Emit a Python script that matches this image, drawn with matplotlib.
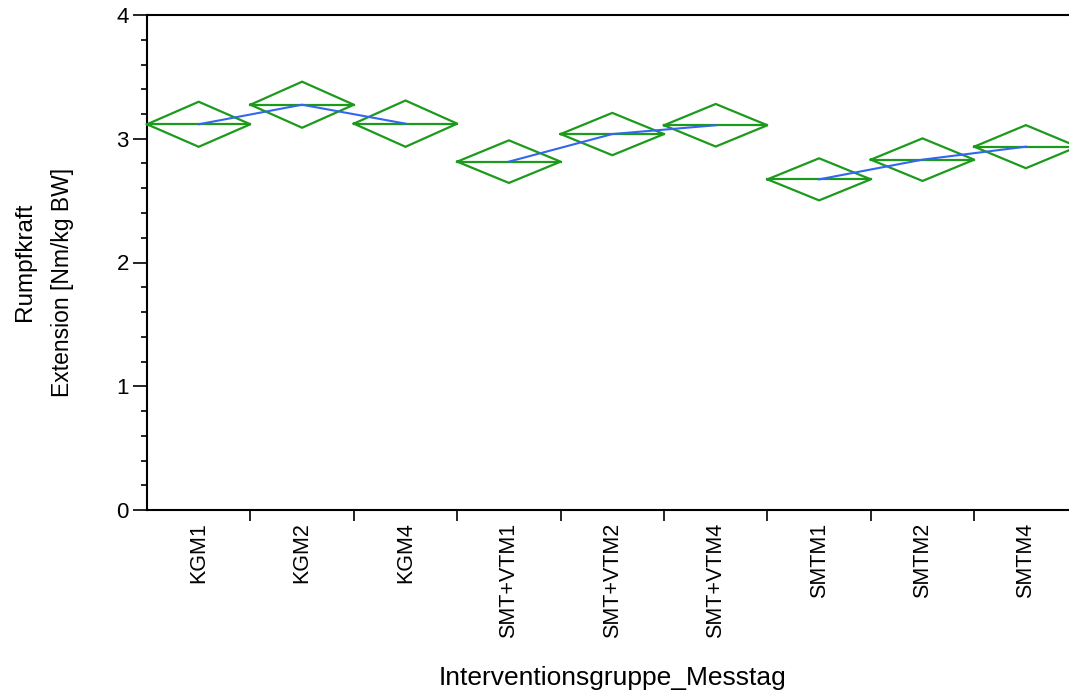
import matplotlib
matplotlib.use("Agg")
import matplotlib.pyplot as plt
import numpy as np

categories = ["KGM1", "KGM2", "KGM4", "SMT+VTM1", "SMT+VTM2", "SMT+VTM4", "SMTM1", "SMTM2", "SMTM4"]
groups = ["KGM", "KGM", "KGM", "SMT+VTM", "SMT+VTM", "SMT+VTM", "SMTM", "SMTM", "SMTM"]
means = [3.117, 3.275, 3.122, 2.815, 3.038, 3.109, 2.672, 2.831, 2.936]
half_ci = [0.182, 0.186, 0.187, 0.172, 0.171, 0.172, 0.170, 0.172, 0.174]

plt.rcParams['font.family'] = ['Liberation Sans', 'DejaVu Sans']

fig = plt.figure(figsize=(10.69, 6.9), dpi=100)
ax = fig.add_axes([147/1069, 1 - 510/690, 930.6/1069, 495/690])

green = "#1c9a1c"
blue = "#3366ee"
x = np.arange(len(categories))
hw = 0.5
for xi, m, h in zip(x, means, half_ci):
    ax.plot([xi - hw, xi, xi + hw, xi, xi - hw], [m, m + h, m, m - h, m],
            color=green, lw=1.6, solid_joinstyle='miter', zorder=3, clip_on=False)
    ax.plot([xi - hw, xi + hw], [m, m], color=green, lw=1.6, zorder=3, clip_on=False)

# blue mean line within each group
for g in dict.fromkeys(groups):
    idx = [i for i, gg in enumerate(groups) if gg == g]
    ax.plot(x[idx], [means[i] for i in idx], color=blue, lw=1.5, zorder=4)

ax.set_xlim(-0.5, len(categories) - 0.5)
ax.set_ylim(0, 4)

ax.set_xticks(x)
ax.set_xticklabels(categories, rotation=90, fontsize=15.5)
ax.set_xticks(np.arange(0.5, len(categories) - 0.5, 1), minor=True)
ax.tick_params(axis='x', which='major', length=0, pad=9)
ax.tick_params(axis='x', which='minor', length=8, width=1.2, direction='out')

ax.set_yticks([0, 1, 2, 3, 4])
ax.set_yticks(np.arange(0, 4.01, 0.2), minor=True)
ax.tick_params(axis='y', which='major', length=10, width=1.2, labelsize=16, pad=3)
ax.tick_params(axis='y', which='minor', length=4, width=1.2)

for s in ['left', 'top', 'bottom', 'right']:
    ax.spines[s].set_linewidth(1.5)

ax.set_xlabel("Interventionsgruppe_Messtag", fontsize=19, labelpad=20)
fig.text(25/1069, 1 - 262/690, "Rumpfkraft", rotation=90, fontsize=17.5, ha='center', va='center')
fig.text(62/1069, 1 - 282/690, "Extension [Nm/kg BW]", rotation=90, fontsize=16.5, ha='center', va='center')

fig.savefig("out.png", dpi=100)
